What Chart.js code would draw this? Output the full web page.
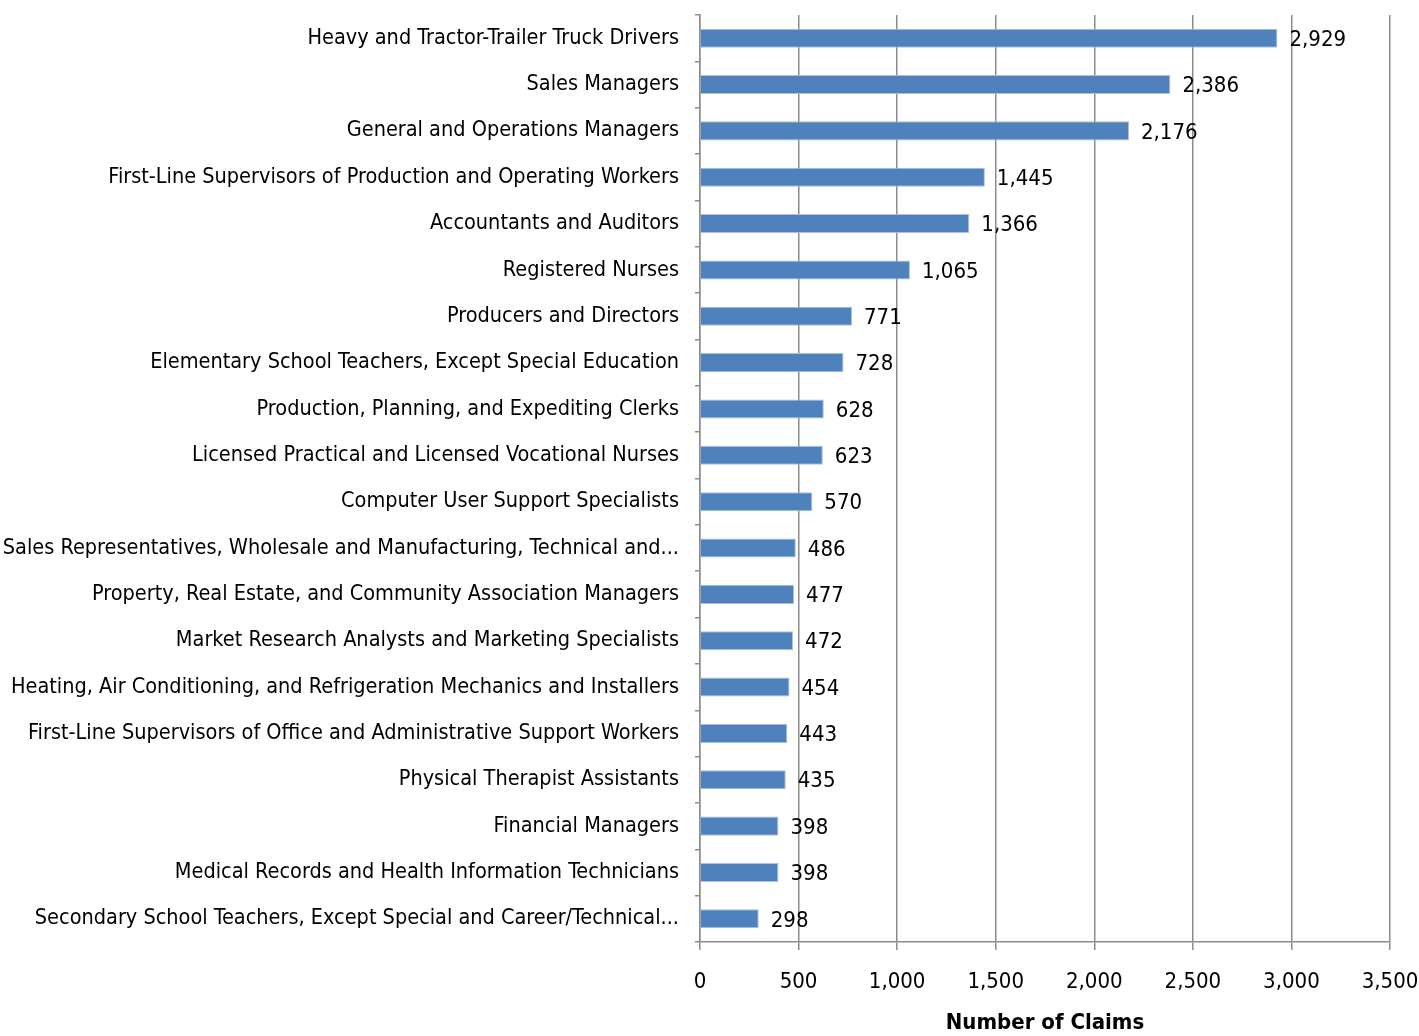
<!DOCTYPE html>
<html>
<head>
<meta charset="utf-8">
<script src="https://cdn.jsdelivr.net/npm/chart.js@4"></script>
<style>
  html, body { margin: 0; padding: 0; background: #fff; }
  #wrap { width: 1419px; height: 1036px; }
</style>
</head>
<body>
<div id="wrap"><canvas id="claimsChart"></canvas></div>
<script>
const occupations = [
    'Heavy and Tractor-Trailer Truck Drivers',
    'Sales Managers',
    'General and Operations Managers',
    'First-Line Supervisors of Production and Operating Workers',
    'Accountants and Auditors',
    'Registered Nurses',
    'Producers and Directors',
    'Elementary School Teachers, Except Special Education',
    'Production, Planning, and Expediting Clerks',
    'Licensed Practical and Licensed Vocational Nurses',
    'Computer User Support Specialists',
    'Sales Representatives, Wholesale and Manufacturing, Technical and...',
    'Property, Real Estate, and Community Association Managers',
    'Market Research Analysts and Marketing Specialists',
    'Heating, Air Conditioning, and Refrigeration Mechanics and Installers',
    'First-Line Supervisors of Office and Administrative Support Workers',
    'Physical Therapist Assistants',
    'Financial Managers',
    'Medical Records and Health Information Technicians',
    'Secondary School Teachers, Except Special and Career/Technical...',
];
const claims = [2929, 2386, 2176, 1445, 1366, 1065, 771, 728, 628, 623, 570, 486, 477, 472, 454, 443, 435, 398, 398, 298];
const xTicks = [0, 500, 1000, 1500, 2000, 2500, 3000, 3500];

const fontFamily = "'Liberation Sans Narrow', 'DejaVu Sans Condensed', sans-serif";

// draws the value next to the end of each bar
const valueLabels = {
    id: 'valueLabels',
    afterDatasetsDraw(chart) {
        const ctx = chart.ctx;
        const meta = chart.getDatasetMeta(0);
        ctx.save();
        ctx.font = `22px ${fontFamily}`;
        ctx.fillStyle = '#000';
        ctx.textAlign = 'left';
        ctx.textBaseline = 'middle';
        meta.data.forEach((bar, i) => {
            ctx.fillText(claims[i].toLocaleString('en-US'), bar.x + 12, bar.y + 2);
        });
        ctx.restore();
    }
};

new Chart(document.getElementById('claimsChart').getContext('2d'), {
    type: 'bar',
    data: {
        labels: occupations,
        datasets: [{
            label: 'Number of Claims',
            data: claims,
            backgroundColor: '#4f81bd',
            borderColor: '#a9c0de',
            borderWidth: 1,
            borderSkipped: 'left',
            categoryPercentage: 1,
            barPercentage: 0.41,
        }],
    },
    options: {
        indexAxis: 'y',
        responsive: true,
        maintainAspectRatio: false,
        animation: false,
        layout: { padding: { top: 15, right: 29, left: 0, bottom: 0 } },
        plugins: {
            legend: { display: false },
            tooltip: { enabled: false },
        },
        scales: {
            x: {
                min: 0,
                max: 3500,
                afterBuildTicks(scale) {
                    scale.ticks = xTicks.map(v => ({ value: v }));
                },
                afterFit(scale) {
                    scale.height = 94;
                    scale.paddingLeft = 0;
                    scale.paddingRight = 0;
                },
                grid: {
                    color: '#8c8c8c',
                    lineWidth: 1.5,
                    tickLength: 8,
                },
                border: { color: '#8c8c8c', width: 1.5 },
                ticks: {
                    color: '#000',
                    padding: 19,
                    maxRotation: 0,
                    font: { family: fontFamily, size: 22 },
                    callback: v => v.toLocaleString('en-US'),
                },
                title: {
                    display: true,
                    text: 'Number of Claims',
                    color: '#000',
                    padding: { top: 10, bottom: 0 },
                    font: { family: fontFamily, size: 22, weight: 'bold' },
                },
            },
            y: {
                afterFit(scale) {
                    scale.width = 700;
                    scale.paddingTop = 0;
                    scale.paddingBottom = 0;
                },
                grid: {
                    offset: true,
                    drawOnChartArea: false,
                    color: '#8c8c8c',
                    lineWidth: 1.5,
                    tickLength: 5,
                },
                border: { color: '#8c8c8c', width: 1.5 },
                ticks: {
                    color: '#000',
                    padding: 16,
                    autoSkip: false,
                    font: { family: fontFamily, size: 21.5 },
                },
            },
        },
    },
    plugins: [valueLabels],
});
</script>
</body>
</html>
